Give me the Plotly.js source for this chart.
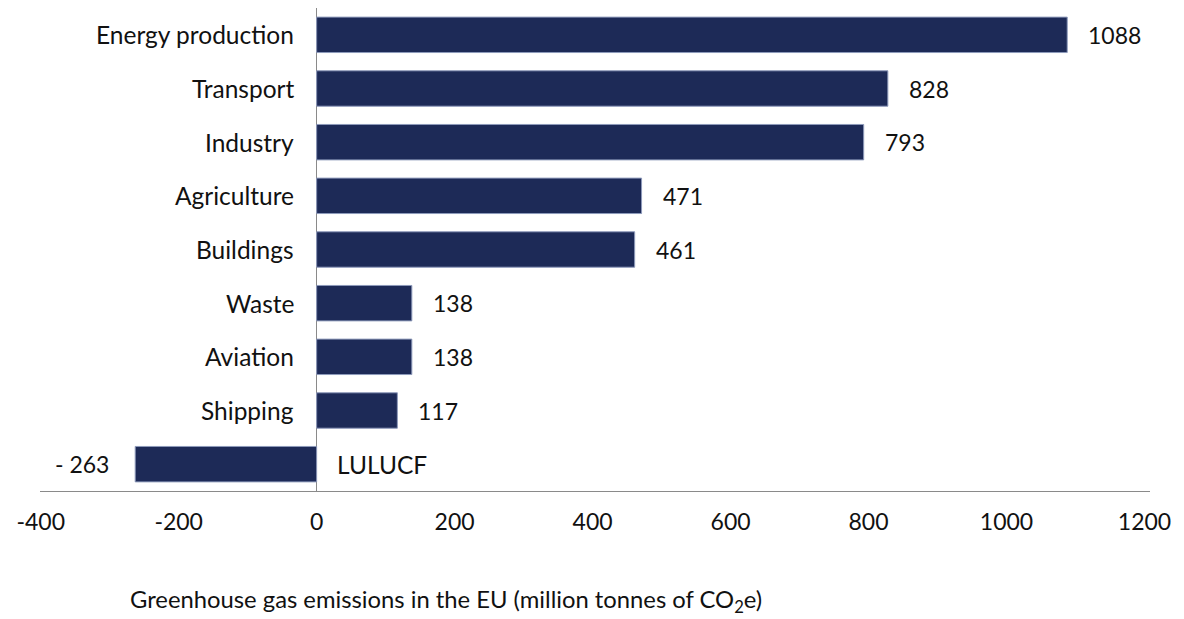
<!DOCTYPE html>
<html>
<head>
<meta charset="utf-8">
<script src="https://cdn.plot.ly/plotly-3.0.1.min.js"></script>
<style>
  html, body { margin: 0; padding: 0; background: #fff; }
  #chart { width: 1184px; height: 619px; }
</style>
</head>
<body>
<div id="chart"></div>
<script>
// EU greenhouse gas emissions by sector (million tonnes CO2e)
const sectors = ["Energy production", "Transport", "Industry", "Agriculture",
                 "Buildings", "Waste", "Aviation", "Shipping", "LULUCF"];
const emissions = [1088, 828, 793, 471, 461, 138, 138, 117, -263];
const xTicks = [-400, -200, 0, 200, 400, 600, 800, 1000, 1200];

const FONT = "Lato, 'Open Sans', sans-serif";
const barColor = "#1d2a57";
const textColor = "#111";

const annotations = [];
sectors.forEach((s, i) => {
  const v = emissions[i];
  // sector name beside the zero line, on the side away from the bar
  annotations.push({
    x: 0, y: s, xref: "x", yref: "y", text: s, showarrow: false,
    xanchor: v >= 0 ? "right" : "left", xshift: v >= 0 ? -21 : 18,
    font: { family: FONT, size: 24.5, color: textColor, weight: 400 }
  });
  // value at the end of the bar
  annotations.push({
    x: v, y: s, xref: "x", yref: "y", text: v < 0 ? "- " + Math.abs(v) : String(v),
    showarrow: false,
    xanchor: v >= 0 ? "left" : "right", xshift: v >= 0 ? 19 : -24,
    font: { family: FONT, size: 23, color: textColor, weight: 400 }
  });
});

// axis caption below the chart
annotations.push({
  xref: "paper", yref: "paper", x: (446 - 40) / 1110, y: -(601 - 491) / 483,
  xanchor: "center", yanchor: "middle", showarrow: false,
  text: "Greenhouse gas emissions in the EU (million tonnes of CO<sub>2</sub>e)",
  font: { family: FONT, size: 23.8, color: textColor, weight: 400 }
});

const trace = {
  type: "bar", orientation: "h",
  x: emissions, y: sectors,
  width: 0.66,
  marker: { color: barColor, line: { color: "#8e9abb", width: 1 } },
  hoverinfo: "x+y"
};

const layout = {
  width: 1184, height: 619,
  margin: { l: 40, r: 34, t: 8, b: 128 },
  paper_bgcolor: "#fff", plot_bgcolor: "#fff",
  showlegend: false,
  font: { family: FONT, size: 20, color: textColor },
  xaxis: {
    range: [-401, 1208],
    tickvals: xTicks, ticktext: xTicks.map(String),
    showgrid: false, ticks: "",
    zeroline: true, zerolinecolor: "#8a8a8a", zerolinewidth: 1.3,
    showline: true, linecolor: "#8a8a8a", linewidth: 1.3,
    tickfont: { family: FONT, size: 23, color: textColor, weight: 400 },
    ticklabelstandoff: 10
  },
  yaxis: {
    type: "category", autorange: "reversed",
    showticklabels: false, showgrid: false, zeroline: false, ticks: ""
  },
  annotations: annotations
};

Plotly.newPlot("chart", [trace], layout, { displayModeBar: false, staticPlot: true });
</script>
</body>
</html>
